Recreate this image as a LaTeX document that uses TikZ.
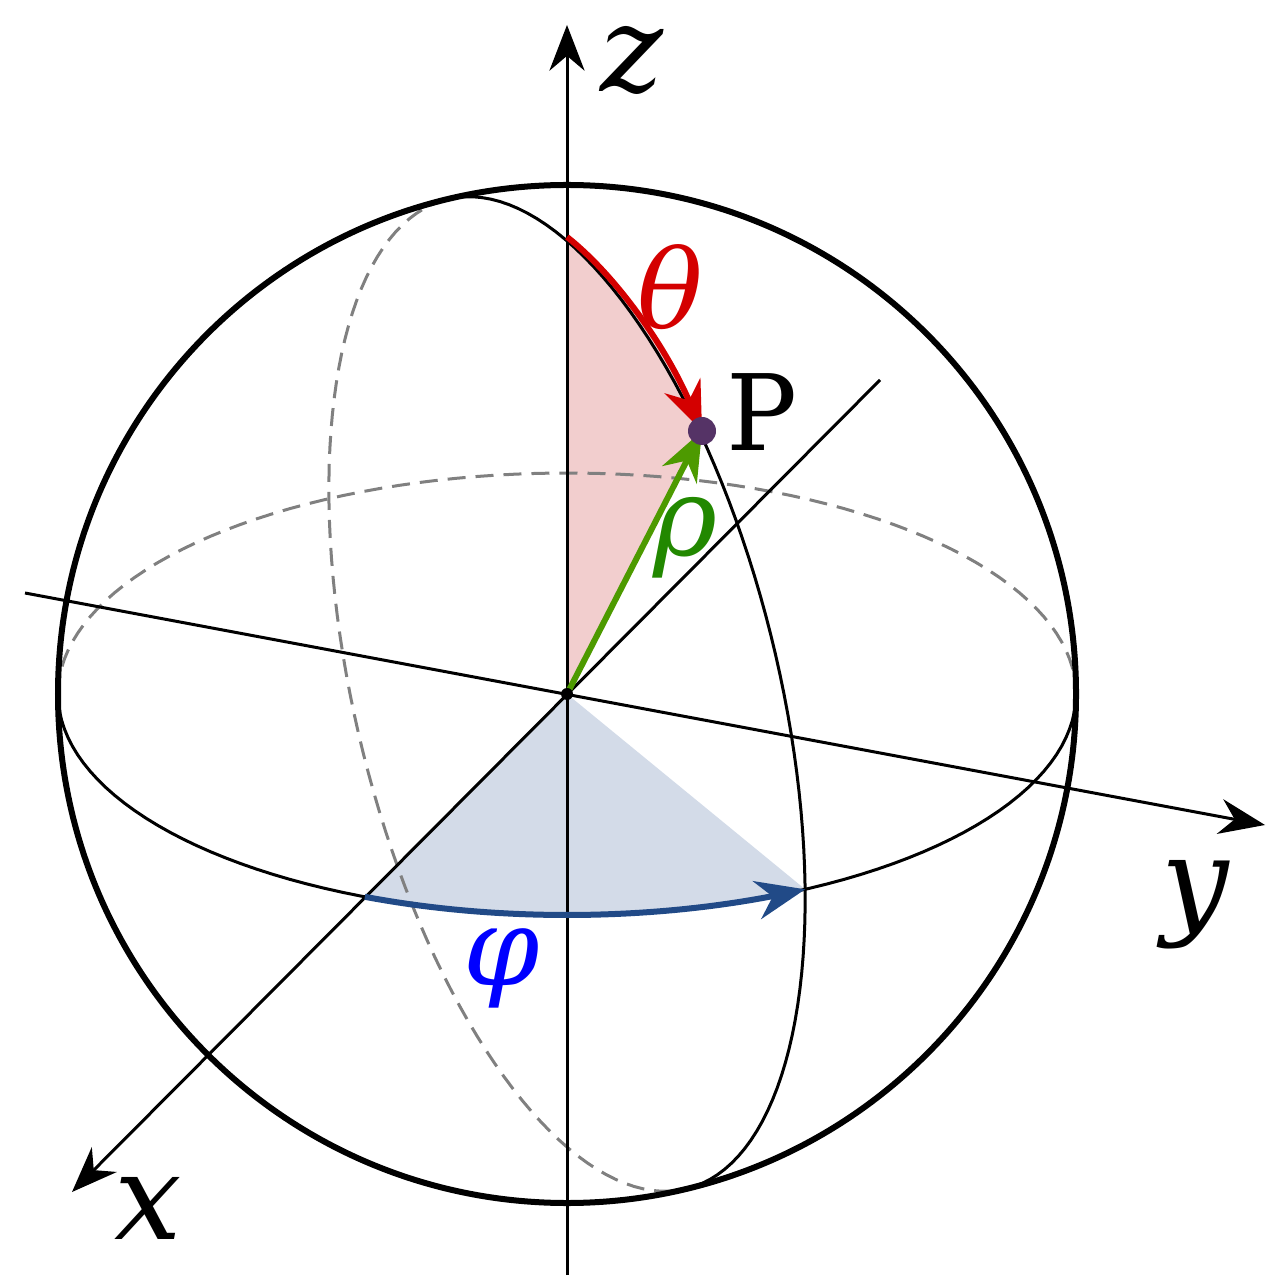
\documentclass[tikz,border=0pt]{standalone}
\usepackage{fontspec}
\setmainfont{DejaVu Serif}
\usetikzlibrary{arrows.meta}
\definecolor{redA}{RGB}{212,0,0}
\definecolor{pinkF}{RGB}{242,206,206}
\definecolor{blueA}{RGB}{33,74,135}
\definecolor{blueF}{RGB}{211,219,232}
\definecolor{greenA}{RGB}{77,154,0}
\definecolor{greenT}{RGB}{34,136,0}
\definecolor{ptC}{RGB}{85,51,102}
\tikzset{
  axis/.style={line width=3pt*0.2845, -{Stealth[length=13pt,width=10pt]}},
  back/.style={gray, dash pattern=on 18pt*0.2845 off 10pt*0.2845, line width=3pt*0.2845},
  front/.style={black, line width=3pt*0.2845},
  lbl/.style={font=\fontsize{34}{34}\selectfont\itshape, inner sep=0pt},
  glbl/.style={font=\fontsize{31}{31}\selectfont\itshape, inner sep=0pt},
  carc/.style={line width=6pt*0.2845, -{Stealth[length=14pt,width=11pt]}}
}
\begin{document}
\begin{tikzpicture}[x=0.01cm,y=-0.01cm]
\useasboundingbox (0,0) rectangle (1280,1280);
\coordinate (O) at (567,694);
\coordinate (P) at (702,431);
% shadings
\fill[pinkF] (O) -- (567,237) .. controls (615,275) and (665,345) .. (P) -- cycle;
\fill[blueF] (O) -- plot[domain=113.4:62.1,samples=40] ({567+509*cos(\x)},{694+221*sin(\x)}) -- cycle;
% back halves
\draw[back] plot[domain=180:360,samples=80] ({567+509*cos(\x)},{694+221*sin(\x)});
\draw[back] plot[domain=180:360,samples=80] ({567+509*cos(\x)*0.2345+212*sin(\x)*0.9721},{694+509*cos(\x)*0.9721-212*sin(\x)*0.2345});
% front halves
\draw[front] plot[domain=0:180,samples=80] ({567+509*cos(\x)},{694+221*sin(\x)});
\draw[front] plot[domain=0:180,samples=80] ({567+509*cos(\x)*0.2345+212*sin(\x)*0.9721},{694+509*cos(\x)*0.9721-212*sin(\x)*0.2345});
% sphere
\draw[line width=6pt*0.2845] (O) circle (509);
% axes
\coordinate (zs) at (567,1275); \coordinate (ze) at (567,25);
\coordinate (ys) at (25,593); \coordinate (ye) at (1265,825);
\coordinate (xs) at (880,380); \coordinate (xe) at (72,1192);
\draw[axis] (zs) -- (ze);
\draw[axis] (ys) -- (ye);
\draw[axis] (xs) -- (xe);
% arcs
\draw[redA, carc] (567,237) .. controls (615,275) and (665,345) .. (P);
\draw[blueA, carc] plot[domain=113.4:62.1,samples=40] ({567+509*cos(\x)},{694+221*sin(\x)});
\draw[greenA, carc] (O) -- (P);
\fill (O) circle (6);
\fill[ptC] (P) circle (14);
% labels
\node[lbl] (zl) at (632,60) {z};
\node[lbl] (yl) at (1195,905) {y};
\node[lbl] (xl) at (148,1208) {x};
\node[glbl, redA] (th) at (670,287) {θ};
\node[glbl, greenT] (rh) at (686,538) {ρ};
\node[glbl, blue] (ph) at (502,968) {φ};
\node[font=\fontsize{30}{30}\selectfont, inner sep=0pt] (Pl) at (762,412) {P};
\end{tikzpicture}
\end{document}
